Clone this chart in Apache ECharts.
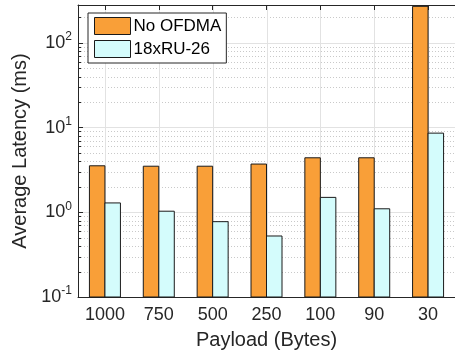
<!DOCTYPE html>
<html>
<head>
<meta charset="utf-8">
<script src="https://cdn.jsdelivr.net/npm/echarts@6/dist/echarts.min.js"></script>
<style>
  html, body { margin: 0; padding: 0; background: #fff; }
  #chart { width: 455px; height: 360px; }
</style>
</head>
<body>
<div id="chart"></div>
<script>
// Payload sizes (bytes) on the x axis
const categories = ['1000', '750', '500', '250', '100', '90', '30'];
// Average latency in ms for each configuration
const noOfdma = [3.54, 3.5, 3.5, 3.71, 4.4, 4.4, 270];
const ru26 = [1.29, 1.03, 0.775, 0.525, 1.5, 1.1, 8.6];
const seriesNames = ['No OFDMA', '18xRU-26'];
// Log axis range
const yMin = 0.1;
const yMax = 280;

const colors = ['#F99F38', '#D4FCFC'];
const ink = '#262626';
const font = 'Liberation Sans, Arial, Helvetica, sans-serif';
const barW = 15.5;

const chart = echarts.init(document.getElementById('chart'), null, { renderer: 'canvas' });

function barRenderer(side, color) {
  return function (params, api) {
    const idx = api.value(0);
    const top = api.coord([idx, api.value(1)]);
    const base = api.coord([idx, yMin]);
    const x = side < 0 ? top[0] - barW : top[0];
    return {
      type: 'rect',
      shape: { x: x, y: top[1], width: barW, height: base[1] - top[1] },
      style: { fill: color, stroke: '#1a1a1a', lineWidth: 1 }
    };
  };
}

function toPairs(arr) { return arr.map((v, i) => [i, v]); }

const option = {
  animation: false,
  backgroundColor: '#fff',
  textStyle: { fontFamily: font },
  grid: { left: 78, right: -7, top: 5, bottom: 63, containLabel: false },
  legend: {
    orient: 'vertical',
    left: 88,
    top: 13,
    padding: [4, 5, 5, 6],
    itemGap: 5,
    itemWidth: 36,
    itemHeight: 17,
    backgroundColor: '#fff',
    borderColor: ink,
    borderWidth: 1,
    borderRadius: 0,
    icon: 'rect',
    textStyle: { fontSize: 17, color: '#000', fontFamily: font, padding: [0, 0, 0, -2] },
    data: seriesNames.map((n, i) => ({
      name: n,
      itemStyle: { color: colors[i], borderColor: '#1a1a1a', borderWidth: 1 }
    }))
  },
  xAxis: [{
    type: 'category',
    data: categories,
    position: 'bottom',
    axisLine: { show: true, lineStyle: { color: ink, width: 1 } },
    axisTick: { show: true, inside: true, alignWithLabel: true, length: 5, lineStyle: { color: ink } },
    axisLabel: { fontSize: 18, color: ink, margin: 9, fontFamily: font },
    splitLine: { show: false },
    name: 'Payload (Bytes)',
    nameLocation: 'middle',
    nameGap: 33,
    nameTextStyle: { fontSize: 20, color: ink, fontFamily: font }
  }, {
    type: 'category',
    data: categories,
    position: 'top',
    axisLine: { show: true, lineStyle: { color: ink, width: 1 } },
    axisTick: { show: true, inside: true, alignWithLabel: true, length: 5, lineStyle: { color: ink } },
    axisLabel: { show: false },
    splitLine: { show: false }
  }],
  yAxis: {
    type: 'log',
    logBase: 10,
    min: yMin,
    max: yMax,
    axisLine: { show: true, lineStyle: { color: ink, width: 1 } },
    axisTick: { show: true, inside: true, length: 5, lineStyle: { color: ink } },
    axisLabel: {
      color: ink,
      margin: 6,
      fontFamily: font,
      formatter: function (v) {
        const l = Math.log10(v);
        const e = Math.round(l);
        if (Math.abs(l - e) > 1e-6) return '';
        return '{b|10}{s|' + e + '}';
      },
      rich: {
        b: { fontSize: 18, color: ink, fontFamily: font, lineHeight: 24 },
        s: { fontSize: 12, color: ink, fontFamily: font, verticalAlign: 'top', lineHeight: 12 }
      }
    },
    splitLine: { show: true, lineStyle: { color: '#e2e2e2', width: 1 } },
    name: 'Average Latency (ms)',
    nameLocation: 'middle',
    nameGap: 44,
    nameTextStyle: { fontSize: 20, color: ink, fontFamily: font }
  },
  series: [{
    name: seriesNames[0],
    type: 'custom',
    renderItem: barRenderer(-1, colors[0]),
    itemStyle: { color: colors[0], borderColor: '#1a1a1a', borderWidth: 1 },
    encode: { x: 0, y: 1 },
    data: toPairs(noOfdma),
    z: 3
  }, {
    name: seriesNames[1],
    type: 'custom',
    renderItem: barRenderer(1, colors[1]),
    itemStyle: { color: colors[1], borderColor: '#1a1a1a', borderWidth: 1 },
    encode: { x: 0, y: 1 },
    data: toPairs(ru26),
    z: 3
  }]
};

chart.setOption(option);

// Minor log grid (2..9 per decade), category grid lines and minor ticks
function drawGuides() {
  const els = [];
  const yTop = chart.convertToPixel({ yAxisIndex: 0 }, yMax);
  const yBot = chart.convertToPixel({ yAxisIndex: 0 }, yMin);
  const xLeft = 78;
  const xRight = 455 + 7;
  for (let e = -1; e <= 2; e++) {
    for (let k = 2; k <= 9; k++) {
      const v = k * Math.pow(10, e);
      if (v >= yMax) continue;
      const y = Math.round(chart.convertToPixel({ yAxisIndex: 0 }, v)) + 0.5;
      els.push({
        type: 'line', z: 0, silent: true,
        shape: { x1: xLeft, y1: y, x2: xRight, y2: y },
        style: { stroke: '#c9c9c9', lineWidth: 1, lineDash: [1, 2] }
      });
      els.push({
        type: 'line', z: 20, silent: true,
        shape: { x1: xLeft, y1: y, x2: xLeft + 3, y2: y },
        style: { stroke: ink, lineWidth: 1 }
      });
    }
  }
  categories.forEach((c, i) => {
    const x = Math.round(chart.convertToPixel({ xAxisIndex: 0 }, i)) + 0.5;
    els.push({
      type: 'line', z: 0, silent: true,
      shape: { x1: x, y1: yTop, x2: x, y2: yBot },
      style: { stroke: '#e2e2e2', lineWidth: 1 }
    });
  });
  chart.setOption({ graphic: { elements: els } });
}
drawGuides();
</script>
</body>
</html>
